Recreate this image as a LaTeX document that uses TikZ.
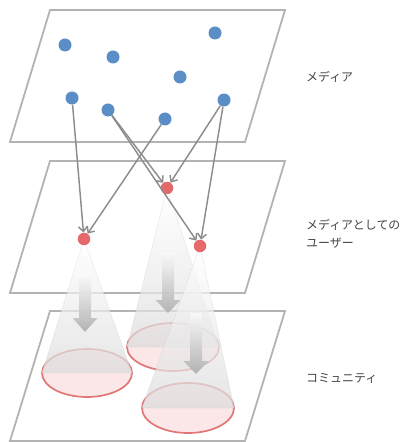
\documentclass[tikz,border=0pt]{standalone}
\usepackage{fontspec}
\newfontfamily\cjk{Noto Sans CJK JP}
\usetikzlibrary{arrows.meta,calc}

\definecolor{planegray}{HTML}{B3B3B3}
\definecolor{dotblue}{HTML}{5B8EC6}
\definecolor{dotred}{HTML}{E5696B}
\definecolor{linkgray}{HTML}{8C8C8C}
\definecolor{labelgray}{HTML}{444444}
\definecolor{ringred}{HTML}{E07676}
\definecolor{ringfill}{HTML}{FBE7E7}
\definecolor{conegray}{HTML}{DCDCDC}
\definecolor{coneedge}{HTML}{D2D2D2}

\tikzset{
  plane/.style={draw=planegray, line width=1.8bp, line join=miter},
  mediadot/.style={circle, fill=dotblue, minimum size=13bp, inner sep=0pt},
  userdot/.style={circle, fill=dotred, minimum size=12.5bp, inner sep=0pt},
  link/.style={draw=linkgray, line width=1.45bp,
    -{Straight Barb[length=5bp,width=9bp,line width=1.45bp]}},
  ring/.style={draw=ringred, line width=1.7bp, fill=ringfill},
  beam/.style={top color=white, bottom color=conegray, fill opacity=0.72,
    draw=coneedge, draw opacity=0.8, line width=0.4bp, dash pattern=on 2bp off 1bp},
  flow/.style={top color=black!2, bottom color=black!32, fill opacity=0.9},
  layerlabel/.style={anchor=west, inner sep=0pt, align=left, text=labelgray,
    font=\cjk\fontsize{12}{18}\selectfont},
}

% cone of influence: apex coordinate, base centre x, y, radii x, y
\newcommand{\spreadcone}[5]{%
  \path[ring] (#2,#3) ellipse [x radius=#4, y radius=#5];
  \shadedraw[beam] (#1) -- (#2-#4,#3) -- (#2+#4,#3) -- cycle;
}
% downward block arrow: centre x, top y, head start y, tip y
\newcommand{\downflow}[4]{%
  \shade[flow] (#1-6,#2) -- (#1-6,#3) -- (#1-12.5,#3) -- (#1,#4)
    -- (#1+12.5,#3) -- (#1+6,#3) -- (#1+6,#2) -- cycle;
}

\begin{document}
\begin{tikzpicture}[x=1bp, y=-1bp]
\useasboundingbox (0,0) rectangle (403,442);

% three layers, bottom first
\draw[plane] (50,311) -- (285,311) -- (245,441) -- (10,441) -- cycle;
\draw[plane] (50,161) -- (285,161) -- (245,293) -- (10,293) -- cycle;
\draw[plane] (50,10) -- (285,10) -- (245,142) -- (10,142) -- cycle;

% apexes of the cones (users acting as media)
\coordinate (a1) at (84,239);
\coordinate (a2) at (167,188);
\coordinate (a3) at (200,246);

% communities reached by each user
\spreadcone{a1}{87}{373}{45}{24}
\downflow{85}{275}{318}{332}
\spreadcone{a2}{173}{347}{46}{24}
\downflow{168}{253}{300}{313}
\spreadcone{a3}{188}{408}{46}{25}
\downflow{196}{313}{361}{374}

% media
\node[mediadot] (m1) at (65,45) {};
\node[mediadot] (m2) at (113,57) {};
\node[mediadot] (m3) at (215,33) {};
\node[mediadot] (m4) at (180,77) {};
\node[mediadot] (m5) at (72,98) {};
\node[mediadot] (m6) at (108,110) {};
\node[mediadot] (m7) at (165,119) {};
\node[mediadot] (m8) at (224,100) {};

% users acting as media
\node[userdot] (u1) at (a1) {};
\node[userdot] (u2) at (a2) {};
\node[userdot] (u3) at (a3) {};

% information flow from media to users
\draw[link] (m5) -- (u1);
\draw[link] (m7) -- (u1);
\draw[link] (m6) -- (u2);
\draw[link] (m6) -- (u3);
\draw[link] (m8) -- (u2);
\draw[link] (m8) -- (u3);

% layer labels
\node[layerlabel] (l1) at (306,77) {メディア};
\node[layerlabel] (l2) at (306,234) {メディアとしての\\ユーザー};
\node[layerlabel] (l3) at (306,378) {コミュニティ};
\end{tikzpicture}
\end{document}
